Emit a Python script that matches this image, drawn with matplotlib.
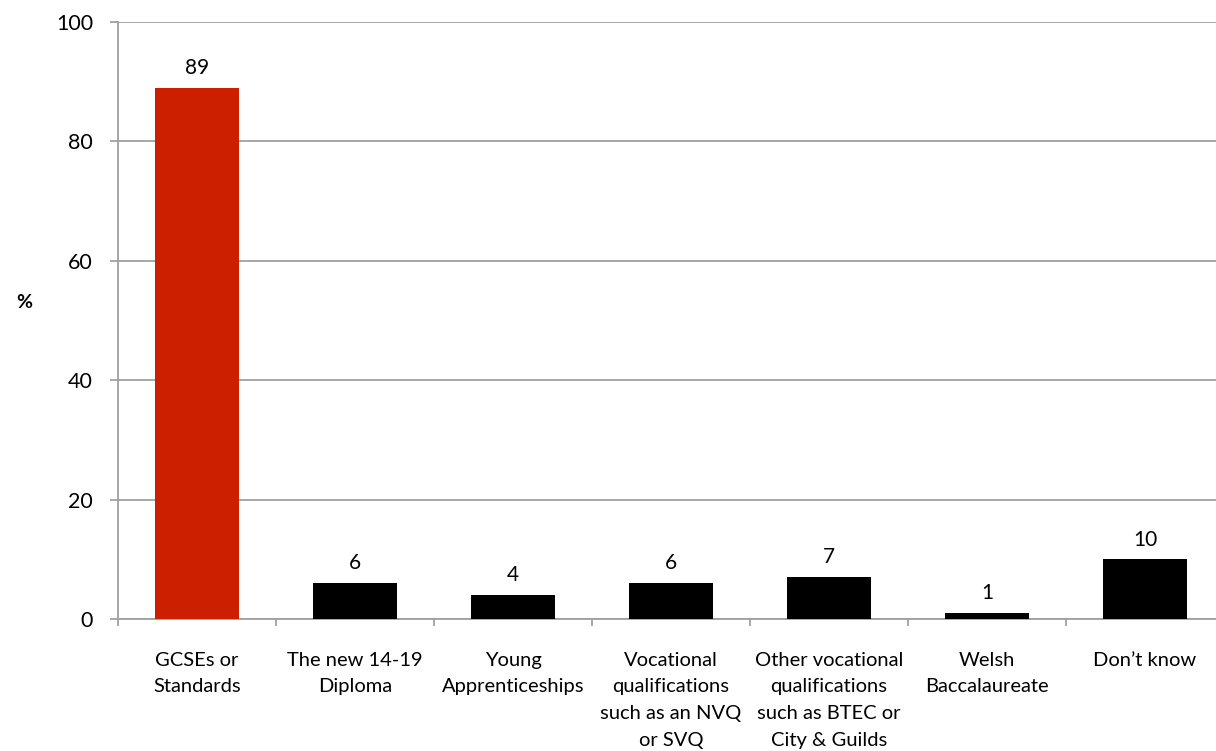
import matplotlib
matplotlib.use("Agg")
import matplotlib.pyplot as plt
from matplotlib import font_manager
import numpy as np

categories = [
    "GCSEs or\nStandards",
    "The new 14-19\nDiploma",
    "Young\nApprenticeships",
    "Vocational\nqualifications\nsuch as an NVQ\nor SVQ",
    "Other vocational\nqualifications\nsuch as BTEC or\nCity & Guilds",
    "Welsh\nBaccalaureate",
    "Don\u2019t know",
]
values = [89, 6, 4, 6, 7, 1, 10]
bar_colors = ["#CC1F00", "#000000", "#000000", "#000000", "#000000", "#000000", "#000000"]
y_ticks = [0, 20, 40, 60, 80, 100]

available = {f.name for f in font_manager.fontManager.ttflist}
family = [f for f in ["Lato", "DejaVu Sans"] if f in available]
plt.rcParams["font.family"] = family

W, H = 1216, 751
fig = plt.figure(figsize=(W / 100, H / 100), dpi=100)
left, right, bottom, top = 118 / W, 1224 / W, 1 - 619 / H, 1 - 22 / H
ax = fig.add_axes([left, bottom, right - left, top - bottom])

x = np.arange(len(categories))
ax.bar(x, values, width=0.53, color=bar_colors, zorder=3)

for xi, v in zip(x, values):
    ax.annotate(f"{v}", (xi, v), xytext=(0, 7), textcoords="offset points",
                ha="center", va="bottom", fontsize=15, color="#000000")

ax.set_xlim(-0.5, len(categories) - 0.5)
ax.set_ylim(0, 100)
ax.set_yticks(y_ticks)
ax.set_yticklabels([str(t) for t in y_ticks], fontsize=15.5)
ax.yaxis.grid(True, color="#A0A0A0", linewidth=1.3, zorder=0)
ax.set_axisbelow(True)

# category boundaries carry the tick marks, centres carry the labels
ax.set_xticks(np.arange(-0.5, len(categories) + 0.5, 1))
ax.set_xticklabels([])
ax.set_xticks(x, minor=True)
ax.set_xticklabels(categories, minor=True, fontsize=14.5, linespacing=1.7, va="top")
ax.tick_params(axis="x", which="major", length=5, width=1.3, color="#A0A0A0", direction="out")
ax.tick_params(axis="x", which="minor", length=0, pad=23.5)
ax.tick_params(axis="y", length=6, width=1.3, color="#A0A0A0", pad=12)

for side in ["top", "right"]:
    ax.spines[side].set_visible(False)
for side in ["left", "bottom"]:
    ax.spines[side].set_color("#A0A0A0")
    ax.spines[side].set_linewidth(1.3)

fig.text(24 / W, 1 - 302 / H, "%", fontsize=14, fontweight="bold", ha="center", va="center")

fig.savefig("out.png", dpi=100, facecolor="white")
